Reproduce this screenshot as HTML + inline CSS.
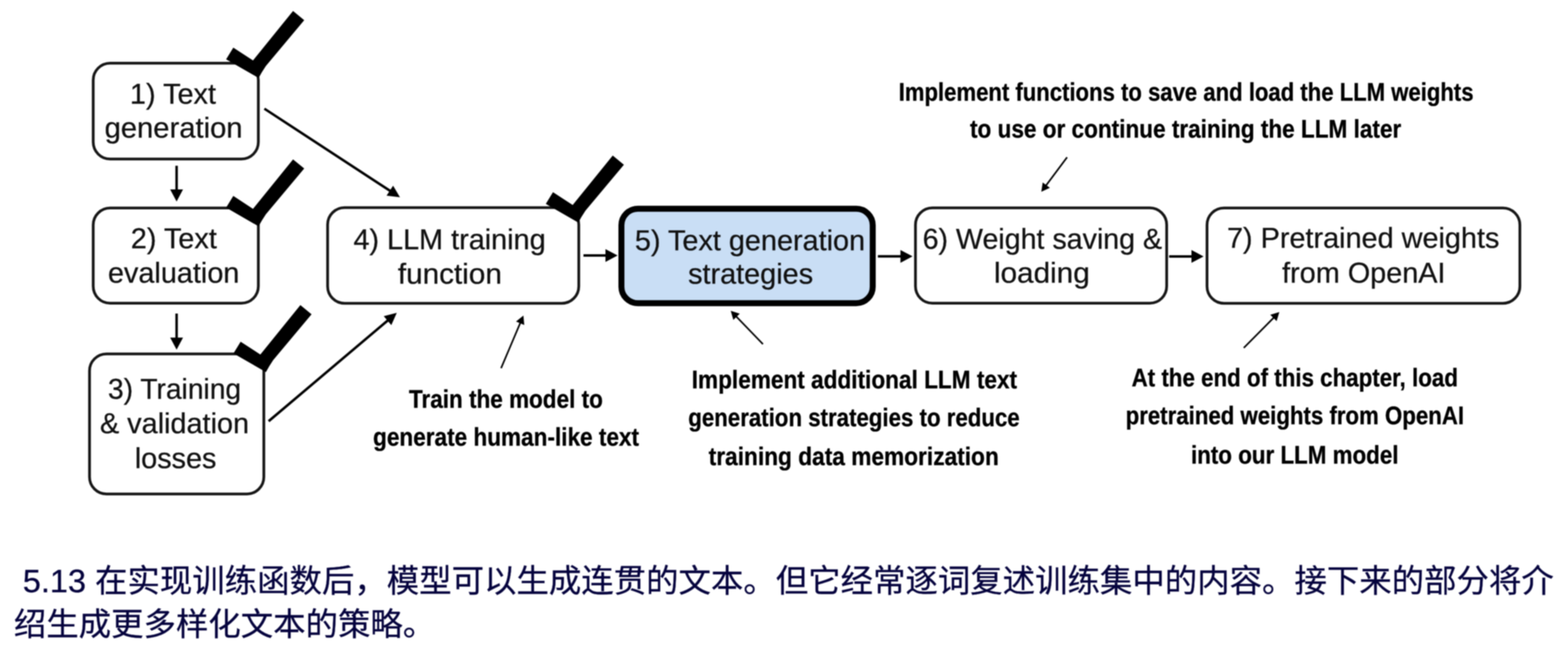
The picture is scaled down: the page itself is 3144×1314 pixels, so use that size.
<!DOCTYPE html>
<html lang="zh"><head><meta charset="utf-8"><title>Figure 5.13</title>
<style>
html,body{margin:0;padding:0;background:#fff}
body{width:3144px;height:1314px;position:relative;overflow:hidden;font-family:"Liberation Sans",sans-serif;color:#111}
svg.g{position:absolute;left:0;top:0}
.t{position:absolute;white-space:pre;line-height:1;margin:0;text-rendering:geometricPrecision;font-kerning:normal}
.n{font-size:57.8px;color:#111;text-align:center;transform:translateX(-50%);-webkit-text-stroke:0.5px #111}
.b{font-size:51px;font-weight:bold;color:#000;transform-origin:0 0;-webkit-text-stroke:0.6px #000}
.c{font-size:65px;color:#05033d;-webkit-text-stroke:0.5px #05033d;font-family:"Liberation Sans","Noto Sans CJK SC",sans-serif}
#pg{position:absolute;left:0;top:0;width:3144px;height:1314px;filter:blur(0.8px)}

</style></head><body><div id="pg">
<svg class="g" width="3144" height="1314" viewBox="0 0 3144 1314">
<rect x="186.9" y="126.7" width="331.1" height="192.4" rx="34" ry="34" fill="#fff" stroke="#161616" stroke-width="5.5"/>
<rect x="186.9" y="417.3" width="331.1" height="191" rx="34" ry="34" fill="#fff" stroke="#161616" stroke-width="5.5"/>
<rect x="179.5" y="709.9" width="349.5" height="281" rx="34" ry="34" fill="#fff" stroke="#161616" stroke-width="5.5"/>
<rect x="656.9" y="416.6" width="503.6" height="191.9" rx="34" ry="34" fill="#fff" stroke="#161616" stroke-width="5.5"/>
<rect x="1246" y="418.8" width="503.9" height="189.4" rx="33" ry="33" fill="#c9def5" stroke="#000" stroke-width="12"/>
<rect x="1835.6" y="417" width="503.7" height="191.3" rx="34" ry="34" fill="#fff" stroke="#161616" stroke-width="5.5"/>
<rect x="2420.2" y="417.2" width="627.3" height="191.2" rx="34" ry="34" fill="#fff" stroke="#161616" stroke-width="5.5"/>
<line x1="354.1" y1="332.5" x2="354.1" y2="381.9" stroke="#000" stroke-width="5.0"/>
<polygon points="354.1,404.2 341.2,379.9 367,379.9" fill="#000"/>
<line x1="354.1" y1="629" x2="354.1" y2="679.3" stroke="#000" stroke-width="5.0"/>
<polygon points="354.1,701.6 341.2,677.3 367,677.3" fill="#000"/>
<line x1="530.1" y1="218" x2="783.34" y2="383.6" stroke="#000" stroke-width="5.0"/>
<polygon points="802,395.8 775.09,392.54 788.23,372.46" fill="#000"/>
<line x1="538.6" y1="845" x2="778.57" y2="642" stroke="#000" stroke-width="5.0"/>
<polygon points="795.6,627.6 784.64,652.26 769.46,634.32" fill="#000"/>
<line x1="1169.9" y1="512.6" x2="1216" y2="512.6" stroke="#000" stroke-width="5.0"/>
<polygon points="1238.3,512.6 1214,525.5 1214,499.7" fill="#000"/>
<line x1="1760.2" y1="514.3" x2="1807.5" y2="514.3" stroke="#000" stroke-width="5.0"/>
<polygon points="1829.8,514.3 1805.5,527.2 1805.5,501.4" fill="#000"/>
<line x1="2344.2" y1="514.4" x2="2391" y2="514.4" stroke="#000" stroke-width="5.0"/>
<polygon points="2413.3,514.4 2389,527.3 2389,501.5" fill="#000"/>
<line x1="1004.7" y1="738.7" x2="1043.72" y2="646.72" stroke="#000" stroke-width="3.3"/>
<polygon points="1049.5,633.1 1051.22,652.08 1034.65,645.05" fill="#000"/>
<line x1="1529.8" y1="690.4" x2="1475.48" y2="634.15" stroke="#000" stroke-width="3.3"/>
<polygon points="1465.2,623.5 1483.34,629.33 1470.4,641.84" fill="#000"/>
<line x1="2493.9" y1="697.9" x2="2554.78" y2="636.51" stroke="#000" stroke-width="3.3"/>
<polygon points="2565.2,626 2559.76,644.27 2546.98,631.59" fill="#000"/>
<line x1="2139.6" y1="315.5" x2="2096.75" y2="372.94" stroke="#000" stroke-width="3.3"/>
<polygon points="2087.9,384.8 2090.73,365.95 2105.16,376.72" fill="#000"/>
<polygon points="467.8,95.4 453.4,118.9 518.5,156.4 525,144.9 533,132.4 610,40.4 587.6,22 507.3,121.2" fill="#000"/>
<polygon points="467.8,393.1 453.4,416.6 518.5,454.1 525,442.6 533,430.1 610,338.1 587.6,319.7 507.3,418.9" fill="#000"/>
<polygon points="482.5,685.4 468.1,708.9 533.2,746.4 539.7,734.9 547.7,722.4 624.7,630.4 602.3,612 522,711.2" fill="#000"/>
<polygon points="1108.8,385.4 1094.4,408.9 1159.5,446.4 1166,434.9 1174,422.4 1251,330.4 1228.6,312 1148.3,411.2" fill="#000"/>
</svg>
<div class="t n" style="left:346.8px;top:161.07px">1) Text</div>
<div class="t n" style="left:348.2px;top:229.17px;transform:translateX(-50%) scaleX(1.012)">generation</div>
<div class="t n" style="left:348.5px;top:451.07px">2) Text</div>
<div class="t n" style="left:348.2px;top:519.77px">evaluation</div>
<div class="t n" style="left:350.2px;top:752.97px;transform:translateX(-50%) scaleX(0.978)">3) Training</div>
<div class="t n" style="left:349.9px;top:821.97px">&amp; validation</div>
<div class="t n" style="left:352.1px;top:891.67px">losses</div>
<div class="t n" style="left:901.4px;top:453.07px">4) LLM training</div>
<div class="t n" style="left:902px;top:521.77px;transform:translateX(-50%) scaleX(1.03)">function</div>
<div class="t n" style="left:1503.8px;top:454.67px">5) Text generation</div>
<div class="t n" style="left:1505px;top:522.17px">strategies</div>
<div class="t n" style="left:2089.8px;top:451.97px;transform:translateX(-50%) scaleX(0.992)">6) Weight saving &amp;</div>
<div class="t n" style="left:2088.7px;top:520.47px;transform:translateX(-50%) scaleX(1.03)">loading</div>
<div class="t n" style="left:2733.3px;top:450.47px">7) Pretrained weights</div>
<div class="t n" style="left:2734.6px;top:519.87px">from OpenAI</div>
<div class="t b" style="left:1801.77px;top:158.83px;transform:scaleX(0.8691)">Implement functions to save and load the LLM weights</div>
<div class="t b" style="left:1945.27px;top:233.43px;transform:scaleX(0.8871)">to use or continue training the LLM later</div>
<div class="t b" style="left:820.27px;top:774.53px;transform:scaleX(0.8851)">Train the model to</div>
<div class="t b" style="left:747.97px;top:850.53px;transform:scaleX(0.8877)">generate human-like text</div>
<div class="t b" style="left:1387.07px;top:735.93px;transform:scaleX(0.8888)">Implement additional LLM text</div>
<div class="t b" style="left:1380.07px;top:812.03px;transform:scaleX(0.8751)">generation strategies to reduce</div>
<div class="t b" style="left:1421.27px;top:889.63px;transform:scaleX(0.8925)">training data memorization</div>
<div class="t b" style="left:2269.27px;top:732.13px;transform:scaleX(0.8779)">At the end of this chapter, load</div>
<div class="t b" style="left:2257.47px;top:808.23px;transform:scaleX(0.8739)">pretrained weights from OpenAI</div>
<div class="t b" style="left:2387.87px;top:887.03px;transform:scaleX(0.8797)">into our LLM model</div>
<div class="t c" style="left:27.8px;top:1133.48px"> 5.13 </div>
<div class="t c" style="left:190.43px;top:1133.48px;width:2925px;height:65px">在实现训练函数后，模型可以生成连贯的文本。但它经常逐词复述训练集中的内容。接下来的部分将介</div>
<div class="t c" style="left:27.8px;top:1219.88px;width:845px;height:65px">绍生成更多样化文本的策略。</div>
</div></body></html>
